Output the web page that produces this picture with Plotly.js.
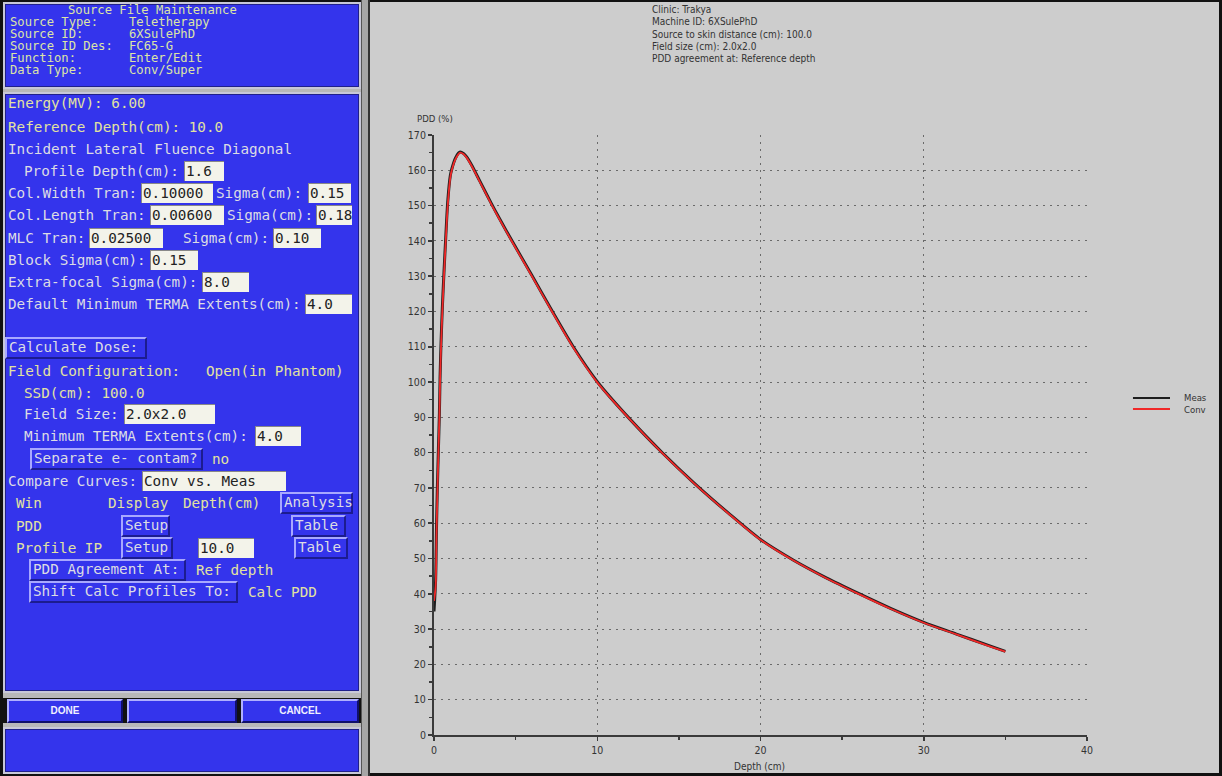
<!DOCTYPE html>
<html>
<head>
<meta charset="utf-8">
<script src="https://cdn.plot.ly/plotly-3.0.1.min.js"></script>
<style>
  html, body { margin: 0; padding: 0; }
  body { width: 1222px; height: 776px; background: #111; position: relative; overflow: hidden; }
  .box { position: absolute; background: #3434ec; box-sizing: border-box; border: 2px solid #c8c8d8; box-shadow: inset 0 0 0 1px #20208a; }
  .t { position: absolute; white-space: pre; font-family: "DejaVu Sans Mono", "Liberation Mono", monospace; font-size: 14.3px; line-height: 18px; }
  .h { position: absolute; white-space: pre; font-family: "DejaVu Sans Mono", "Liberation Mono", monospace; font-size: 12.2px; line-height: 13px; color: #dde4a6; }
  .in { position: absolute; box-sizing: border-box; background: #f3f3ea; color: #222; border-top: 1px solid #888; border-left: 1px solid #888; font-family: "DejaVu Sans Mono", monospace; font-size: 14.3px; line-height: 18px; padding-left: 1px; white-space: pre; }
  .btn { position: absolute; box-sizing: border-box; background: #3434ec; border: 2px solid; border-color: #a8a8ff #1c1c90 #1c1c90 #a8a8ff; font-family: "DejaVu Sans Mono", monospace; font-size: 14.3px; line-height: 17px; padding-left: 2px; white-space: pre; }
  .bb { position: absolute; box-sizing: border-box; background: #3434ec; border: 2px solid; border-color: #b0b0ff #10106a #10106a #b0b0ff; color: #f0f0ff; font-family: "Liberation Sans", Arial, sans-serif; font-weight: bold; font-size: 10px; text-align: center; line-height: 20px; }
  #plot { position: absolute; left: 370px; top: 2px; width: 849px; height: 771px; }
</style>
</head>
<body>
<div id="panel"></div>
<div id="plot"></div>
<script>
// ---------- chart data ----------
const depthCm = [0, 0.1, 0.15, 0.2, 0.27, 0.33, 0.37, 0.43, 0.51, 0.61, 0.72, 0.84, 1.0, 1.1, 1.3, 1.5, 1.6, 1.8, 2.0, 2.3, 2.8, 3.5, 4.0, 4.8, 6.0, 7.2, 8.5, 10, 12, 14, 16, 18, 20, 22, 24, 26, 28, 30, 32, 34, 35];
const measPdd = [35, 44, 58, 69, 81, 91, 101, 111, 121, 131, 141, 151, 158.5, 160.5, 163.3, 164.9, 165.2, 164.8, 163.8, 161.5, 157.0, 150.7, 146.4, 139.8, 130.2, 120.4, 110.2, 100.1, 89.5, 79.9, 71.1, 63.0, 55.4, 49.6, 44.6, 40.1, 35.8, 31.9, 28.6, 25.3, 23.7];
const convPdd = [38, 42, 56, 67, 80, 90, 100, 110, 120, 130, 140, 150, 158, 160.2, 163, 164.6, 165, 164.6, 163.6, 161.3, 156.8, 150.5, 146.2, 139.6, 130, 120.2, 110, 99.9, 89.4, 79.8, 71.0, 62.9, 55.3, 49.5, 44.5, 40.0, 35.7, 31.8, 28.5, 25.2, 23.6];
const seriesNames = ["Meas", "Conv"];
const seriesColors = ["#1e1e1e", "#f02828"];
const xTickVals = [0, 10, 20, 30, 40];
const yTickVals = [0, 10, 20, 30, 40, 50, 60, 70, 80, 90, 100, 110, 120, 130, 140, 150, 160, 170];
const headerLines = ["Clinic: Trakya", "Machine ID: 6XSulePhD", "Source to skin distance (cm): 100.0", "Field size (cm): 2.0x2.0", "PDD agreement at: Reference depth"];
const xTitle = "Depth (cm)";
const yTitle = "PDD (%)";

// ---------- left panel (application UI) ----------
const panel = document.getElementById('panel');
function el(cls, css, text) {
  const d = document.createElement('div');
  d.className = cls;
  Object.assign(d.style, css);
  if (text !== undefined) d.textContent = text;
  panel.appendChild(d);
  return d;
}
el('', {position:'absolute', left:'361px', top:'0px', width:'9px', height:'776px', background:'#a6a6a6', borderLeft:'1px solid #555', borderRight:'2px solid #333', boxSizing:'border-box'});
el('', {position:'absolute', left:'3px', top:'88px', width:'358px', height:'5px', background:'#b8b8b8'});
el('', {position:'absolute', left:'3px', top:'692px', width:'358px', height:'6px', background:'#b8b8b8'});
el('', {position:'absolute', left:'3px', top:'723px', width:'358px', height:'5px', background:'#b8b8b8'});

el('box', {left:'3px', top:'2px', width:'358px', height:'87px'});
el('box', {left:'3px', top:'92px', width:'358px', height:'601px'});
el('box', {left:'3px', top:'727px', width:'358px', height:'47px'});

const hdr = [
  [68, 4, 'Source File Maintenance'],
  [10, 16, 'Source Type:'], [129, 16, 'Teletherapy'],
  [10, 28, 'Source ID:'], [129, 28, '6XSulePhD'],
  [10, 40, 'Source ID Des:'], [129, 40, 'FC65-G'],
  [10, 52, 'Function:'], [129, 52, 'Enter/Edit'],
  [10, 64, 'Data Type:'], [129, 64, 'Conv/Super']
];
hdr.forEach(h => el('h', {left:h[0]+'px', top:h[1]+'px'}, h[2]));

const Y = '#e2e2a0', G = '#dcdce4';
function T(x, yc, s, c) { el('t', {left:x+'px', top:(yc-9)+'px', color:c}, s); }
function I(x1, x2, yc, s) { el('in', {left:x1+'px', top:(yc-10)+'px', width:(x2-x1)+'px', height:'20px'}, s); }
function B(x1, x2, yc, s, c) { el('btn', {left:x1+'px', top:(yc-11)+'px', width:(x2-x1)+'px', height:'22px', color:c}, s); }

T(8, 103, 'Energy(MV): 6.00', Y);
T(8, 127, 'Reference Depth(cm): 10.0', Y);
T(8, 149, 'Incident Lateral Fluence Diagonal', G);
T(24, 171, 'Profile Depth(cm):', G); I(184, 224, 171, '1.6');
T(8, 193, 'Col.Width Tran:', G); I(141, 213, 193, '0.10000'); T(216, 193, 'Sigma(cm):', G); I(308, 351, 193, '0.15');
T(8, 215, 'Col.Length Tran:', G); I(150, 224, 215, '0.00600'); T(227, 215, 'Sigma(cm):', G); I(316, 352, 215, '0.18');
T(8, 238, 'MLC Tran:', G); I(89, 163, 238, '0.02500'); T(183, 238, 'Sigma(cm):', G); I(273, 321, 238, '0.10');
T(8, 260, 'Block Sigma(cm):', G); I(150, 198, 260, '0.15');
T(8, 282, 'Extra-focal Sigma(cm):', G); I(202, 249, 282, '8.0');
T(8, 304, 'Default Minimum TERMA Extents(cm):', G); I(305, 352, 304, '4.0');
B(5, 147, 348, 'Calculate Dose:', G);
T(8, 371, 'Field Configuration:   Open(in Phantom)', Y);
T(24, 393, 'SSD(cm): 100.0', Y);
T(24, 414, 'Field Size:', G); I(124, 215, 414, '2.0x2.0');
T(24, 436, 'Minimum TERMA Extents(cm):', G); I(255, 301, 436, '4.0');
B(30, 203, 459, 'Separate e- contam?', G); T(212, 459, 'no', Y);
T(8, 481, 'Compare Curves:', G); I(142, 286, 481, 'Conv vs. Meas');
T(16, 503, 'Win', Y); T(108, 503, 'Display', Y); T(183, 503, 'Depth(cm)', Y); B(280, 353, 503, 'Analysis', G);
T(16, 526, 'PDD', Y); B(121, 170, 526, 'Setup', G); B(291, 346, 526, 'Table', G);
T(16, 548, 'Profile IP', Y); B(121, 173, 548, 'Setup', G); I(198, 254, 548, '10.0'); B(294, 348, 548, 'Table', G);
B(29, 186, 570, 'PDD Agreement At:', G); T(196, 570, 'Ref depth', Y);
B(29, 238, 592, 'Shift Calc Profiles To:', G); T(248, 592, 'Calc PDD', Y);

el('bb', {left:'7px', top:'699px', width:'116px', height:'24px'}, 'DONE');
el('bb', {left:'127px', top:'699px', width:'110px', height:'24px'}, '');
el('bb', {left:'241px', top:'699px', width:'118px', height:'24px'}, 'CANCEL');

// ---------- Plotly chart ----------
const FONT = '"DejaVu Sans Condensed", "Liberation Sans Narrow", "DejaVu Sans", sans-serif';
const traces = [
  {x: depthCm, y: measPdd, name: seriesNames[0], type: 'scatter', mode: 'lines',
   line: {color: seriesColors[0], width: 3, shape: 'spline', smoothing: 0.8}},
  {x: depthCm, y: convPdd, name: seriesNames[1], type: 'scatter', mode: 'lines',
   line: {color: seriesColors[1], width: 1.8, shape: 'spline', smoothing: 0.8}}
];

const annotations = headerLines.map((s, i) => ({
  text: s, xref: 'paper', yref: 'paper', x: 0.331, y: (735 - (9 + i * 12.5)) / 600,
  xanchor: 'left', yanchor: 'middle', showarrow: false,
  font: {family: FONT, size: 10, color: '#333'}
}));
annotations.push({text: yTitle, xref: 'paper', yref: 'paper', x: -0.029, y: 1.028,
  xanchor: 'left', yanchor: 'middle', showarrow: false, font: {family: FONT, size: 9.5, color: '#333'}});
annotations.push({text: xTitle, xref: 'paper', yref: 'paper', x: 0.499, y: -0.052,
  xanchor: 'center', yanchor: 'middle', showarrow: false, font: {family: FONT, size: 10, color: '#333'}});

// legend drawn as a compact key (reference uses tight 11px row spacing)
const legendY = [0.5617, 0.5433];
const shapes = [];
seriesNames.forEach((n, i) => {
  shapes.push({type: 'line', xref: 'paper', yref: 'paper', x0: 1.0704, x1: 1.1271, y0: legendY[i], y1: legendY[i],
    line: {color: seriesColors[i], width: 2}});
  annotations.push({text: n, xref: 'paper', yref: 'paper', x: 1.1455, y: legendY[i], xanchor: 'left', yanchor: 'middle',
    showarrow: false, font: {family: FONT, size: 9.5, color: '#333'}});
});

const axisCommon = {
  showgrid: true, gridcolor: '#6a6a6a', gridwidth: 1, griddash: '2px,5px',
  zeroline: false, showline: true, linecolor: '#3a3a3a', linewidth: 2,
  ticks: 'outside', ticklen: 4, tickwidth: 1.5, tickcolor: '#3a3a3a',
  tickfont: {family: FONT, size: 10.5, color: '#333'},
  tickmode: 'array', fixedrange: true
};

const layout = {
  width: 849, height: 771,
  margin: {l: 64, r: 132, t: 133, b: 38},
  paper_bgcolor: '#cdcdcd', plot_bgcolor: '#cdcdcd',
  showlegend: false,
  xaxis: Object.assign({}, axisCommon, {range: [0, 40], tickvals: xTickVals,
    minor: {dtick: 5, ticks: 'outside', ticklen: 3, tickcolor: '#3a3a3a', showgrid: false}}),
  yaxis: Object.assign({}, axisCommon, {range: [0, 170], tickvals: yTickVals,
    minor: {dtick: 5, ticks: 'outside', ticklen: 3, tickcolor: '#3a3a3a', showgrid: false}}),
  annotations: annotations,
  shapes: shapes
};

Plotly.newPlot('plot', traces, layout, {displayModeBar: false, staticPlot: true});
</script>
</body>
</html>
